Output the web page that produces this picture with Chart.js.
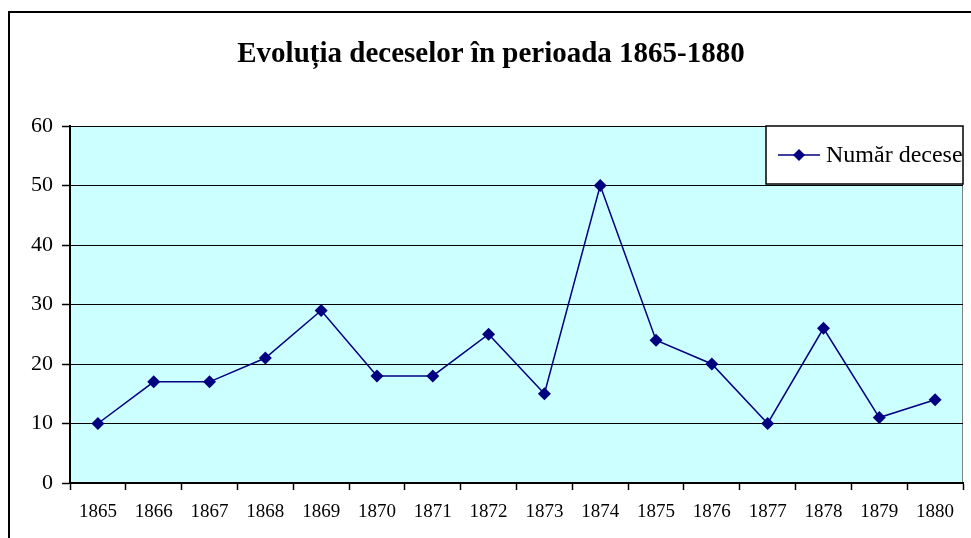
<!DOCTYPE html>
<html>
<head>
<meta charset="utf-8">
<script src="https://cdn.jsdelivr.net/npm/chart.js@4"></script>
<style>
    html, body { margin: 0; padding: 0; background: #fff; }
    #wrap { width: 971px; height: 538px; }
</style>
</head>
<body>
<div id="wrap"><canvas id="chart" width="971" height="538"></canvas></div>
<script>
const years = ['1865', '1866', '1867', '1868', '1869', '1870', '1871', '1872',
    '1873', '1874', '1875', '1876', '1877', '1878', '1879', '1880'];
const deaths = [10, 17, 17, 21, 29, 18, 18, 25, 15, 50, 24, 20, 10, 26, 11, 14];
const yTicks = [0, 10, 20, 30, 40, 50, 60];
const seriesName = 'Număr decese';
const titleText = 'Evoluția deceselor în perioada 1865-1880';

const lineColor = '#000080';

// background, outer frame, plot area and title
const backdrop = {
    id: 'backdrop',
    beforeDraw(chart) {
        const ctx = chart.ctx;
        const a = chart.chartArea;
        ctx.save();
        ctx.fillStyle = '#ffffff';
        ctx.fillRect(0, 0, chart.width, chart.height);

        ctx.strokeStyle = '#000';
        ctx.lineWidth = 2;
        ctx.strokeRect(9, 12, chart.width + 20, chart.height + 20);

        ctx.fillStyle = '#CCFFFF';
        ctx.fillRect(a.left, a.top, a.right - a.left, a.bottom - a.top);
        ctx.strokeStyle = '#808080';
        ctx.lineWidth = 1;
        ctx.strokeRect(a.left + 0.5, a.top + 0.5, a.right - a.left - 1, a.bottom - a.top - 1);

        ctx.fillStyle = '#000';
        ctx.font = 'bold 29px "Liberation Serif", "Times New Roman", serif';
        ctx.textAlign = 'center';
        ctx.textBaseline = 'middle';
        ctx.fillText(titleText, 491, 55);
        ctx.restore();
    }
};

// Excel style legend box inside the plot area
const legendBox = {
    id: 'legendBox',
    afterDatasetsDraw(chart) {
        const ctx = chart.ctx;
        const x0 = 766, y0 = 126, w = 197, h = 58;
        const cy = y0 + h / 2;
        ctx.save();
        ctx.fillStyle = '#fff';
        ctx.fillRect(x0, y0, w, h);
        ctx.strokeStyle = '#000';
        ctx.lineWidth = 1.5;
        ctx.strokeRect(x0, y0, w, h);

        ctx.strokeStyle = lineColor;
        ctx.lineWidth = 1.5;
        ctx.beginPath();
        ctx.moveTo(778, cy);
        ctx.lineTo(820, cy);
        ctx.stroke();

        ctx.fillStyle = lineColor;
        ctx.beginPath();
        ctx.moveTo(799, cy - 6);
        ctx.lineTo(805, cy);
        ctx.lineTo(799, cy + 6);
        ctx.lineTo(793, cy);
        ctx.closePath();
        ctx.fill();

        ctx.fillStyle = '#000';
        ctx.font = '24px "Liberation Serif", "Times New Roman", serif';
        ctx.textAlign = 'left';
        ctx.textBaseline = 'middle';
        ctx.fillText(seriesName, 826, cy + 1);
        ctx.restore();
    }
};

new Chart(document.getElementById('chart'), {
    type: 'line',
    data: {
        labels: years,
        datasets: [{
            label: seriesName,
            data: deaths,
            borderColor: lineColor,
            backgroundColor: lineColor,
            borderWidth: 1.5,
            pointStyle: 'rectRot',
            pointRadius: 6.5,
            pointBorderWidth: 0,
            tension: 0
        }]
    },
    options: {
        responsive: false,
        animation: false,
        layout: { padding: { top: 126, left: 0, right: 8, bottom: 0 } },
        plugins: {
            legend: { display: false },
            title: { display: false },
            tooltip: { enabled: false }
        },
        scales: {
            x: {
                offset: true,
                grid: {
                    offset: true,
                    drawOnChartArea: false,
                    drawTicks: true,
                    tickLength: 7,
                    tickColor: '#000',
                    tickWidth: 1.5
                },
                border: { color: '#000', width: 2 },
                ticks: {
                    color: '#000',
                    padding: 11,
                    maxRotation: 0,
                    autoSkip: false,
                    font: { family: '"Liberation Serif", "Times New Roman", serif', size: 19 }
                },
                afterFit(scale) { scale.height = 55; }
            },
            y: {
                min: 0,
                max: 60,
                afterBuildTicks(scale) {
                    scale.ticks = yTicks.map(v => ({ value: v }));
                },
                grid: {
                    color: '#000',
                    lineWidth: 1,
                    tickLength: 8,
                    tickColor: '#000',
                    tickWidth: 1.5
                },
                border: { color: '#000', width: 2 },
                ticks: {
                    color: '#000',
                    padding: 9,
                    font: { family: '"Liberation Serif", "Times New Roman", serif', size: 22 }
                },
                afterFit(scale) { scale.width = 70; }
            }
        }
    },
    plugins: [backdrop, legendBox]
});
</script>
</body>
</html>
